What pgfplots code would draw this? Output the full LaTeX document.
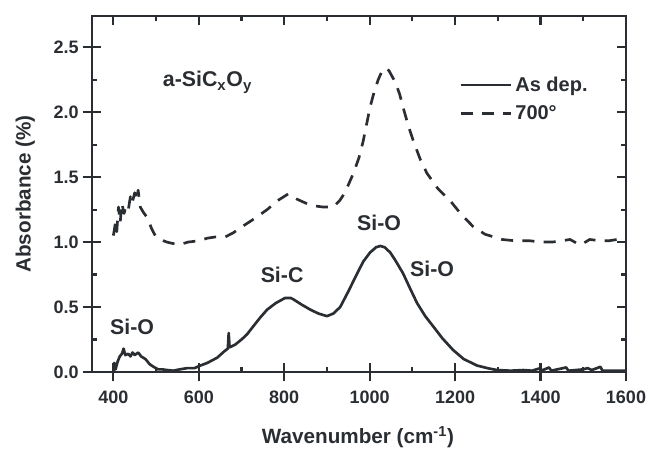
\documentclass[border=0pt]{standalone}
\usepackage{pgfplots}
\pgfplotsset{compat=1.18}
\usepackage{fontspec}
\setmainfont{Liberation Sans}
\definecolor{ink}{RGB}{42,46,50}
\begin{document}
\begin{tikzpicture}
\useasboundingbox (-69pt,-57.75pt) rectangle (418.5pt,279pt);
\begin{axis}[
  at={(0,0)}, anchor=south west,
  scale only axis, width=400.5pt, height=267pt,
  xmin=350, xmax=1600, ymin=0, ymax=2.74,
  xtick={400,600,...,1600}, ytick={0,0.5,...,2.5},
  minor x tick num=1, minor y tick num=1,
  tick align=inside,
  major tick length=7pt, minor tick length=3.5pt,
  every tick/.style={ink, line width=1.6pt},
  axis line style={ink, line width=1.8pt},
  /pgf/number format/assume math mode=true,
  /pgf/number format/1000 sep={},
  yticklabel style={/pgf/number format/fixed, /pgf/number format/fixed zerofill, /pgf/number format/precision=1, xshift=-6.5pt},
  xticklabel style={yshift=-11pt},
  tick label style={font=\fontsize{13.5}{15}\selectfont\bfseries, text=ink},
  xlabel={Wavenumber (cm\textsuperscript{-1})},
  ylabel={Absorbance (\%)},
  label style={font=\fontsize{15.5}{17}\selectfont\bfseries, text=ink},
  xlabel style={at={(axis description cs:0.498,-0.183)}, anchor=center},
  ylabel style={at={(axis description cs:-0.125,0.5)}, anchor=center},
  legend style={at={(axis description cs:0.68,0.845)}, anchor=north west, draw=none, fill=none,
    font=\fontsize{15}{17}\selectfont\bfseries, text=ink, row sep=5pt},
  legend cell align=left,
  legend image code/.code={\draw[#1] (0pt,0pt) -- (38pt,0pt);},
]
\addplot[ink, line width=2pt, line join=round] coordinates {
(400,0.00) (402,0.07) (405,0.02) (410,0.08) (415,0.12) (420,0.14) (424,0.18) (428,0.13)
(435,0.14) (440,0.12) (445,0.15) (450,0.13) (458,0.15) (465,0.12) (475,0.10) (485,0.06)
(494,0.04) (505,0.02) (515,0.02) (526,0.015) (540,0.01) (555,0.02) (573,0.03) (590,0.03)
(604,0.05) (620,0.07) (643,0.11) (660,0.16) (668,0.18) (670,0.30) (672,0.19) (685,0.21)
(700,0.25) (713,0.29) (720,0.32) (744,0.42) (760,0.48) (780,0.53) (802,0.57) (815,0.57)
(821,0.56) (840,0.52) (861,0.48) (880,0.45) (900,0.43) (915,0.45) (931,0.50) (950,0.62)
(971,0.76) (985,0.85) (1001,0.92) (1015,0.96) (1025,0.97) (1035,0.96) (1048,0.92) (1060,0.86)
(1078,0.76) (1095,0.64) (1111,0.53) (1130,0.43) (1149,0.35) (1170,0.26) (1195,0.17) (1220,0.10)
(1251,0.05) (1275,0.03) (1298,0.015) (1330,0.01) (1360,0.015) (1380,0.01) (1400,0.03) (1402,0.01)
(1420,0.035) (1425,0.01) (1460,0.035) (1465,0.01) (1500,0.02) (1510,0.03) (1520,0.015) (1540,0.04)
(1545,0.01) (1570,0.01) (1600,0.01)
};
\addlegendentry{As dep.}
\addplot[ink, line width=2pt, line join=round, dash pattern=on 9pt off 7pt] coordinates {
(400,1.05) (405,1.15) (408,1.08) (412,1.27) (416,1.15) (420,1.30) (425,1.22) (430,1.28)
(435,1.25) (440,1.35) (444,1.30) (450,1.38) (455,1.32) (458,1.40) (463,1.27) (470,1.23)
(479,1.19) (490,1.10) (498,1.05) (510,1.02) (525,1.00) (538,0.99) (555,0.98) (575,1.00)
(600,1.01) (620,1.03) (640,1.04) (662,1.04) (680,1.07) (702,1.12) (730,1.18) (760,1.25)
(785,1.32) (809,1.37) (830,1.33) (850,1.30) (868,1.28) (890,1.27) (915,1.27) (930,1.32)
(938,1.36) (950,1.44) (962,1.53) (975,1.65) (985,1.78) (1001,2.04) (1010,2.15) (1020,2.25)
(1028,2.31) (1036,2.34) (1045,2.32) (1060,2.23) (1070,2.14) (1078,2.04) (1090,1.90) (1102,1.78)
(1118,1.64) (1134,1.53) (1160,1.41) (1188,1.32) (1215,1.21) (1242,1.12) (1270,1.06) (1310,1.02)
(1340,1.01) (1375,1.01) (1400,1.00) (1427,1.00) (1450,1.01) (1469,1.02) (1480,1.00) (1490,0.98)
(1500,0.99) (1515,1.02) (1539,1.01) (1560,1.01) (1579,1.02) (1600,1.03)
};
\addlegendentry{700\textdegree}
\begin{scope}[every node/.style={font=\fontsize{16}{18}\selectfont\bfseries, text=ink}]
\node[anchor=west] at (axis cs:505,2.23) {a-SiC\textsubscript{x}O\textsubscript{y}};
\node at (axis cs:444,0.35) {Si-O};
\node at (axis cs:795,0.75) {Si-C};
\node at (axis cs:1022,1.15) {Si-O};
\node at (axis cs:1146,0.79) {Si-O};
\end{scope}
\end{axis}
\begin{axis}[
  at={(0,0)}, anchor=south west,
  scale only axis, width=400.5pt, height=267pt,
  xmin=350, xmax=1600, ymin=0, ymax=2.74,
  xtick={400,600,...,1600}, ytick={0,0.5,...,2.5},
  xtick pos=left, ytick pos=left,
  tick align=outside, major tick length=7pt,
  every tick/.style={ink, line width=1.6pt},
  xticklabels={}, yticklabels={},
  axis line style={draw=none},
]
\end{axis}
\end{tikzpicture}
\end{document}
